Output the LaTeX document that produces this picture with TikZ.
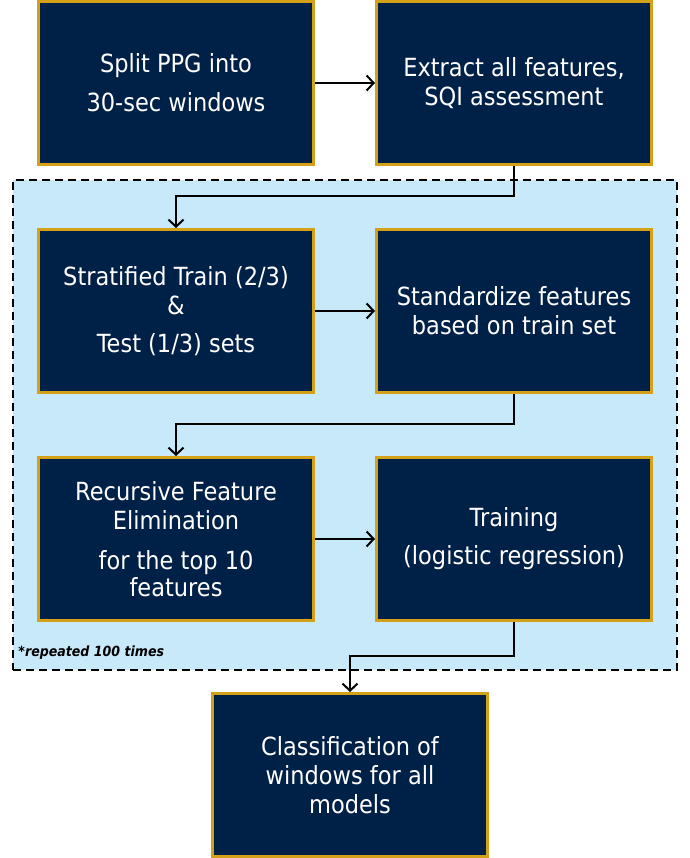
\documentclass[tikz,border=0pt]{standalone}
\usepackage{fontspec}
\setmainfont{DejaVu Sans}[FakeStretch=0.9]
\usepackage{tikz}
\usetikzlibrary{positioning, calc, arrows.meta, fit, backgrounds}
\definecolor{navy}{RGB}{0,33,71}
\definecolor{gold}{RGB}{212,160,23}
\definecolor{paleblue}{RGB}{199,233,249}
\tikzstyle{Arrow} = [
    line width = 2pt,
    -{Straight Barb[length = 7pt, width = 15pt]}
]

\begin{document}
\begin{tikzpicture}[
x = 1pt, y = 1pt,
block/.style={
    rectangle,
    draw = gold,
    fill = navy,
    line width = 3pt,
    text = white,
    align = center,
    minimum width = 275pt,
    minimum height = 163pt,
    font = \fontsize{25}{29}\selectfont
    },
node distance = 62pt and 60pt
]
\useasboundingbox (0,0) rectangle (689,-858);

\node [block] (1) at (176,-83) {Split PPG into\\[10pt] 30-sec windows};
\node [block, right = of 1] (2) {Extract all features,\\ SQI assessment};
\node [block, below = of 1] (3) {Stratified Train (2/3)\\ \&\\[9pt] Test (1/3) sets};
\node [block, below = of 2] (4) {Standardize features\\ based on train set};
\node [block, below = of 3] (5) {Recursive Feature\\ Elimination\\[11pt] for the top 10\\[-2pt] features};
\node [block, below = of 4] (6) {Training\\[9pt] (logistic regression)};
\node [block, below = 70pt of 5, xshift = 174pt] (7) {Classification of\\ windows for all\\ models};

% repeated part
\begin{scope}[on background layer]
\node [draw, fill = paleblue, line width = 1.5pt, dash pattern = on 8pt off 5pt,
    inner xsep = 24pt, inner ysep = 48pt, fit = (3) (6)] (loop) {};
\end{scope}
\node [anchor = base west, inner sep = 0pt, font = \fontsize{14}{16}\selectfont\bfseries\itshape]
    (note) at ($(loop.south west) + (6,14)$) {*repeated 100 times};

\draw[Arrow] (1.east) -- (2.west);
\draw[Arrow] (2.south) -- ++(0,-30) -| (3.north);
\draw[Arrow] (3.east) -- (4.west);
\draw[Arrow] (4.south) -- ++(0,-30) -| (5.north);
\draw[Arrow] (5.east) -- (6.west);
\draw[Arrow] (6.south) -- ++(0,-34) -| (7.north);

\end{tikzpicture}
\end{document}
